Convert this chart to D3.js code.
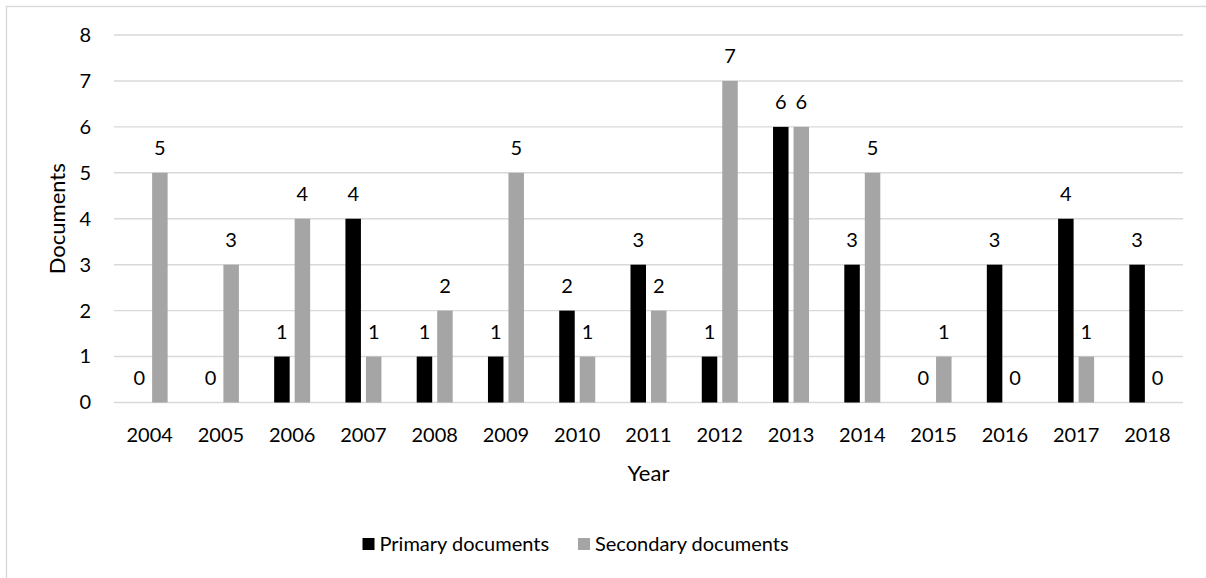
<!DOCTYPE html>
<html>
<head>
<meta charset="utf-8">
<script src="https://cdn.jsdelivr.net/npm/d3@7"></script>
<style>
  body { margin: 0; background: #fff; }
  text { font-family: Lato, "Open Sans", sans-serif; fill: #000; }
  .grid line { stroke: #d9d9d9; stroke-width: 1.4; }
</style>
</head>
<body>
<div id="chart"></div>
<script>
const years = ["2004", "2005", "2006", "2007", "2008", "2009", "2010", "2011",
  "2012", "2013", "2014", "2015", "2016", "2017", "2018"];
const primary = [0, 0, 1, 4, 1, 1, 2, 3, 1, 6, 3, 0, 3, 4, 3];
const secondary = [5, 3, 4, 1, 2, 5, 1, 2, 7, 6, 5, 1, 0, 1, 0];
const seriesNames = ["Primary documents", "Secondary documents"];
const seriesColors = ["#000000", "#a5a5a5"];
const yTicks = [0, 1, 2, 3, 4, 5, 6, 7, 8];

function drawChart() {
  const width = 1206, height = 578;
  const left = 114, right = 1183, top = 35, bottom = 402.5;

  const svg = d3.select("#chart")
    .append("svg")
    .attr("width", width)
    .attr("height", height);

  // chart frame
  svg.append("rect")
    .attr("x", 6.5).attr("y", 6.5)
    .attr("width", width + 20).attr("height", height + 20)
    .attr("fill", "none")
    .attr("stroke", "#d9d9d9")
    .attr("stroke-width", 1.4);

  const x = d3.scaleBand()
    .domain(years)
    .range([left, right]);

  const y = d3.scaleLinear()
    .domain([0, 8])
    .range([bottom, top]);

  // gridlines
  svg.append("g")
    .attr("class", "grid")
    .selectAll("line")
    .data(yTicks)
    .enter().append("line")
    .attr("x1", left).attr("x2", right)
    .attr("y1", d => y(d)).attr("y2", d => y(d));

  // y axis labels
  const yAxis = d3.axisLeft(y).tickValues(yTicks).tickSize(0).tickPadding(23);
  svg.append("g")
    .attr("transform", `translate(${left},0)`)
    .call(yAxis)
    .call(g => g.select(".domain").remove())
    .selectAll("text")
    .style("font-size", "20px");

  // x axis labels
  const xAxis = d3.axisBottom(x).tickSize(0).tickPadding(25);
  svg.append("g")
    .attr("transform", `translate(0,${bottom})`)
    .call(xAxis)
    .call(g => g.select(".domain").remove())
    .selectAll("text")
    .style("font-size", "20px");

  const barW = 15.5, gap = 5;
  const offsets = [-gap / 2 - barW, gap / 2];
  const series = [primary, secondary];

  series.forEach((vals, i) => {
    const g = svg.append("g");
    const data = vals.map((v, j) => ({ year: years[j], v }));
    const bx = d => x(d.year) + x.bandwidth() / 2 + offsets[i];

    g.selectAll("rect")
      .data(data)
      .enter().append("rect")
      .attr("x", bx)
      .attr("y", d => y(d.v))
      .attr("width", barW)
      .attr("height", d => y(0) - y(d.v))
      .attr("fill", seriesColors[i]);

    g.selectAll("text")
      .data(data)
      .enter().append("text")
      .attr("x", d => bx(d) + barW / 2)
      .attr("y", d => y(d.v) - 18)
      .attr("text-anchor", "middle")
      .style("font-size", "20px")
      .text(d => d.v);
  });

  // axis titles
  svg.append("text")
    .attr("transform", `translate(65,${(top + bottom) / 2}) rotate(-90)`)
    .attr("text-anchor", "middle")
    .style("font-size", "22px")
    .text("Documents");

  svg.append("text")
    .attr("x", (left + right) / 2)
    .attr("y", 481)
    .attr("text-anchor", "middle")
    .style("font-size", "22px")
    .text("Year");

  // legend
  const legendX = [362.5, 578];
  seriesNames.forEach((name, i) => {
    svg.append("rect")
      .attr("x", legendX[i]).attr("y", 538)
      .attr("width", 12).attr("height", 12)
      .attr("fill", seriesColors[i]);
    svg.append("text")
      .attr("x", legendX[i] + 17)
      .attr("y", 551)
      .style("font-size", "20px")
      .text(name);
  });
}
drawChart();
</script>
</body>
</html>
